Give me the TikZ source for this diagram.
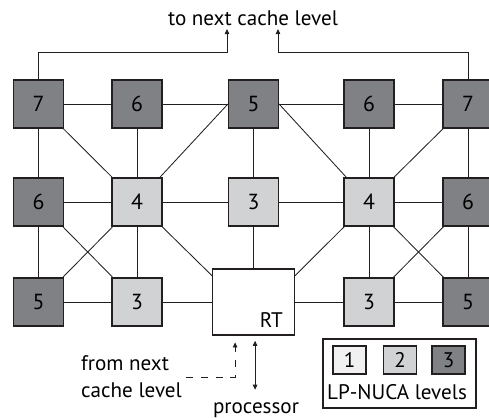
\documentclass[tikz,border=0pt]{standalone}
\usepackage{fontspec}
\setmainfont{PT Sans}
\usetikzlibrary{arrows.meta,positioning}
\definecolor{lvlone}{RGB}{241,241,242}
\definecolor{lvltwo}{RGB}{209,210,212}
\definecolor{lvlthree}{RGB}{128,129,133}
\definecolor{ink}{RGB}{35,31,32}
\tikzset{
 bank/.style={draw=ink,line width=0.8pt,minimum width=1.25cm,minimum height=1.2cm,inner sep=0pt,font=\fontsize{15.5}{17}\selectfont},
 far/.style={bank,fill=lvlthree},
 near/.style={bank,fill=lvltwo},
 key/.style={draw=ink,line width=0.8pt,minimum width=0.825cm,minimum height=0.7cm,inner sep=0pt,font=\fontsize{15}{17}\selectfont},
 wire/.style={ink,line width=0.6pt},
 txt/.style={font=\fontsize{15}{19}\selectfont,inner sep=0pt}
}
\begin{document}
\begin{tikzpicture}[x=0.025cm,y=0.025cm,>={Triangle[length=3.6pt,width=3.2pt]}]
 \useasboundingbox (0,0) rectangle (489,417);
 % banks, top row
 \node[far] (n11) at (38.5,313) {7};
 \node[far] (n12) at (137,313) {6};
 \node[far] (n13) at (253.5,313) {5};
 \node[far] (n14) at (369,313) {6};
 \node[far] (n15) at (468,313) {7};
 % middle row
 \node[far] (n21) at (38.5,215) {6};
 \node[near] (n22) at (137,215) {4};
 \node[near] (n23) at (253.5,215) {3};
 \node[near] (n24) at (369,215) {4};
 \node[far] (n25) at (468,215) {6};
 % bottom row
 \node[far] (n31) at (38.5,115) {5};
 \node[near] (n32) at (137,115) {3};
 \node[draw=ink,line width=0.8pt,fill=white,minimum width=2.05cm,minimum height=1.65cm] (rt) at (253.5,115) {};
 \node[txt,anchor=south east] (rtname) at ([xshift=-0.3cm,yshift=0.2cm]rt.south east) {RT};
 \node[near] (n34) at (369,115) {3};
 \node[far] (n35) at (468,115) {5};

 % mesh
 \draw[wire] (n11) -- (n12) -- (n13) -- (n14) -- (n15);
 \draw[wire] (n21) -- (n22) -- (n23) -- (n24) -- (n25);
 \draw[wire] (n31) -- (n32) -- (rt) -- (n34) -- (n35);
 \draw[wire] (n11) -- (n21) -- (n31);
 \draw[wire] (n12) -- (n22) -- (n32);
 \draw[wire] (n13) -- (n23) -- (rt);
 \draw[wire] (n14) -- (n24) -- (n34);
 \draw[wire] (n15) -- (n25) -- (n35);
 \draw[wire] (n11) -- (n22);
 \draw[wire] (n22) -- (n13.west);
 \draw[wire] (n24) -- (n13.east);
 \draw[wire] (n15) -- (n24);
 \draw[wire] (n22) -- (n31);
 \draw[wire] (n21) -- (n32);
 \draw[wire] (n22) -- ([yshift=-0.18cm]rt.north west);
 \draw[wire] (n24) -- ([yshift=-0.18cm]rt.north east);
 \draw[wire] (n24) -- (n35);
 \draw[wire] (n25) -- (n34);

 % to next cache level
 \node[txt] (up) at (253,399) {to next cache level};
 \coordinate (tipl) at (227,388);
 \coordinate (tipr) at (278,388);
 \draw[wire,->] (n11.north) -- ++(0,27) -| (tipl);
 \draw[wire,->] (n15.north) -- ++(0,27) -| (tipr);

 % processor side
 \node[txt,align=left] (from) at (131.5,40) {from next\\cache level};
 \coordinate (upin) at ([xshift=-0.46cm,yshift=-0.17cm]rt.south);
 \coordinate (cpu) at ([xshift=0.04cm,yshift=-0.13cm]rt.south);
 \draw[wire,dash pattern=on 5pt off 5.5pt,->] ([xshift=0.1cm]from.east) -| (upin);
 \draw[wire,<->] (cpu) -- ++(0,-49);
 \node[txt,anchor=base] (proc) at (256,4) {processor};

 % legend
 \node[draw=ink,line width=0.8pt,minimum width=3.825cm,minimum height=1.725cm] (legend) at (399.5,43.5) {};
 \node[key,fill=lvlone] (k1) at (349.5,57) {1};
 \node[key,fill=lvltwo] (k2) at (400,57) {2};
 \node[key,fill=lvlthree] (k3) at (448.5,57) {3};
 \node[txt] (levels) at (397,24.5) {LP-NUCA levels};
\end{tikzpicture}
\end{document}
